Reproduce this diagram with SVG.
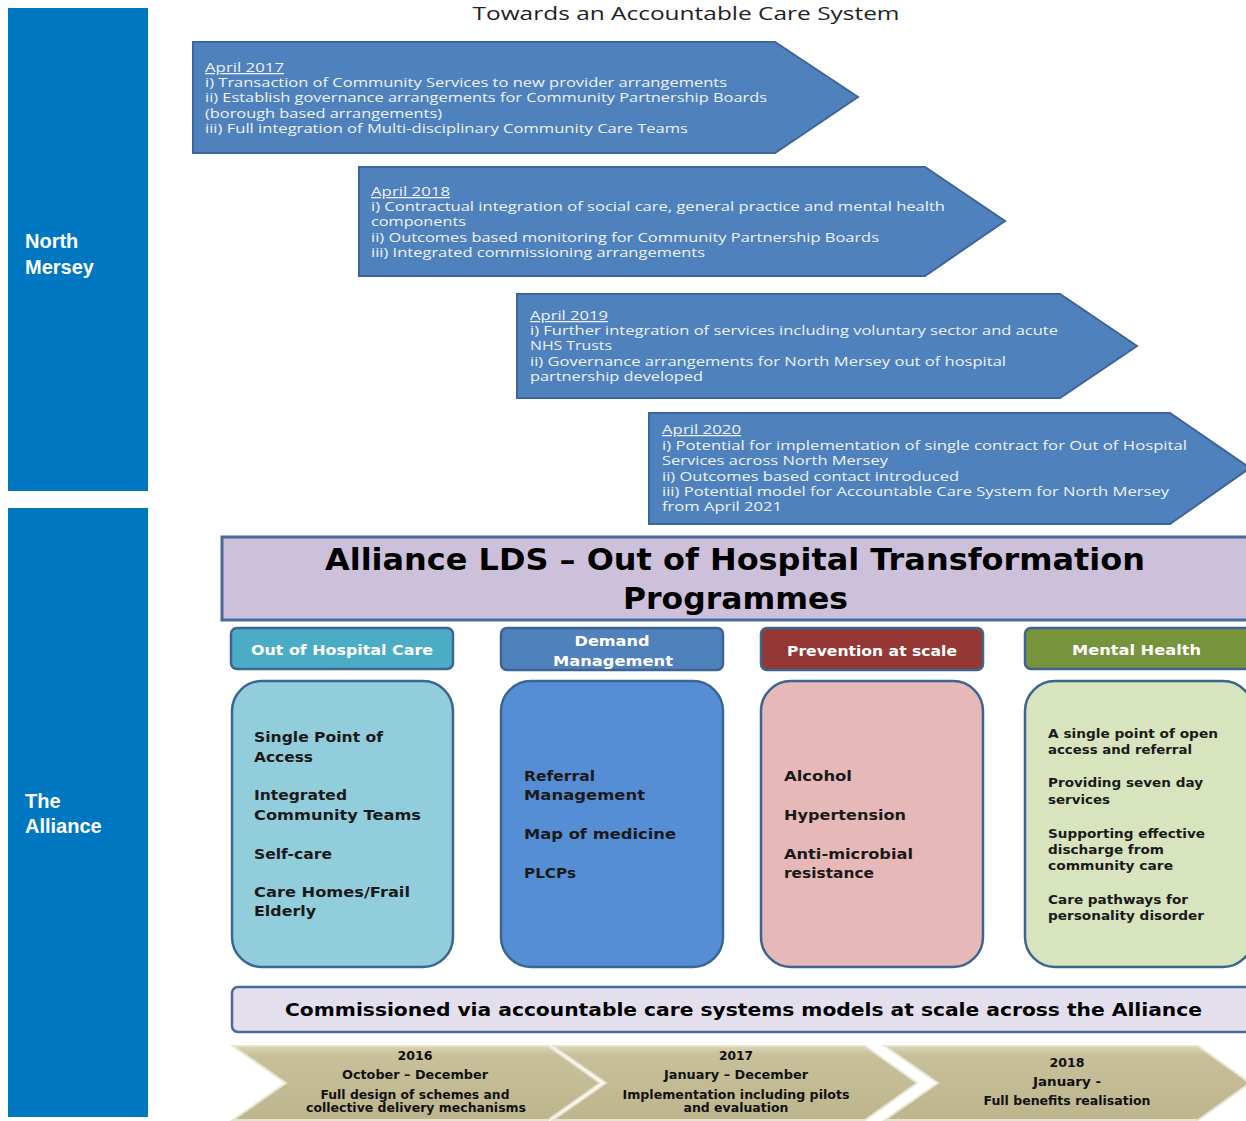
<svg xmlns="http://www.w3.org/2000/svg" width="1246" height="1121" viewBox="0 0 1246 1121">
<style>
.side{fill:#0078C1}
.sidet{fill:#fff;font-family:"Liberation Sans",Arial,sans-serif;font-weight:bold;font-size:20px}
.arr{fill:#4F81BD;stroke:#3C659C;stroke-width:2}
.at{fill:#EEF2F8;font-family:"Open Sans","DejaVu Sans",sans-serif;font-size:12.5px}
.ttl{fill:#222;font-family:"Open Sans","DejaVu Sans",sans-serif;font-size:19px}
.hdr{stroke-width:2.5;stroke:#3F6491}
.ht{fill:#fff;font-family:"DejaVu Sans",sans-serif;font-weight:bold;font-size:14px}
.box{stroke:#3B6593;stroke-width:2.5}
.bt{fill:#1a1a1a;font-family:"DejaVu Sans",sans-serif;font-weight:bold;font-size:14px}
.bt2{fill:#1a1a1a;font-family:"DejaVu Sans",sans-serif;font-weight:bold;font-size:12.5px}
.big{fill:#000;font-family:"DejaVu Sans",sans-serif;font-weight:bold;font-size:30px}
.cmt{fill:#000;font-family:"DejaVu Sans",sans-serif;font-weight:bold;font-size:18px}
.chev{fill:url(#tan);stroke:#E8E4D0;stroke-width:2}
.ct{fill:#111;font-family:"DejaVu Sans",sans-serif;font-weight:bold;font-size:11.5px}
</style>
<defs>
<linearGradient id="tan" x1="0" y1="0" x2="0" y2="1">
<stop offset="0" stop-color="#DCD6B4"/>
<stop offset="0.12" stop-color="#C7C09A"/>
<stop offset="1" stop-color="#BDB58D"/>
</linearGradient>
</defs>
<rect width="1246" height="1121" fill="#fff"/>
<text class="ttl" x="686" y="20" text-anchor="middle" textLength="427" lengthAdjust="spacingAndGlyphs">Towards an Accountable Care System</text>

<g id="north-mersey">
<rect class="side" x="8" y="8" width="140" height="483"/>
<text class="sidet" x="25" y="248">North</text>
<text class="sidet" x="25" y="274">Mersey</text>
</g>
<g id="the-alliance">
<rect class="side" x="8" y="508" width="140" height="609"/>
<text class="sidet" x="25" y="808">The</text>
<text class="sidet" x="25" y="833">Alliance</text>
</g>

<g id="april-2017">
<polygon class="arr" points="193,42 775,42 858,97 775,153 193,153"/>
<text class="at" x="205" y="72" text-decoration="underline" textLength="79" lengthAdjust="spacingAndGlyphs">April 2017</text>
<text class="at" x="205" y="87" textLength="522" lengthAdjust="spacingAndGlyphs">i) Transaction of Community Services to new provider arrangements</text>
<text class="at" x="205" y="102" textLength="562" lengthAdjust="spacingAndGlyphs">ii) Establish governance arrangements for Community Partnership Boards</text>
<text class="at" x="205" y="118" textLength="237" lengthAdjust="spacingAndGlyphs">(borough based arrangements)</text>
<text class="at" x="205" y="133" textLength="483" lengthAdjust="spacingAndGlyphs">iii) Full integration of Multi-disciplinary Community Care Teams</text>
</g>
<g id="april-2018">
<polygon class="arr" points="359,167 925,167 1005,221 925,276 359,276"/>
<text class="at" x="371" y="196" text-decoration="underline" textLength="79" lengthAdjust="spacingAndGlyphs">April 2018</text>
<text class="at" x="371" y="211" textLength="574" lengthAdjust="spacingAndGlyphs">i) Contractual integration of social care, general practice and mental health</text>
<text class="at" x="371" y="226" textLength="95" lengthAdjust="spacingAndGlyphs">components</text>
<text class="at" x="371" y="242" textLength="508" lengthAdjust="spacingAndGlyphs">ii) Outcomes based monitoring for Community Partnership Boards</text>
<text class="at" x="371" y="257" textLength="334" lengthAdjust="spacingAndGlyphs">iii) Integrated commissioning arrangements</text>
</g>
<g id="april-2019">
<polygon class="arr" points="517,294 1060,294 1137,346 1060,398 517,398"/>
<text class="at" x="530" y="320" text-decoration="underline" textLength="78" lengthAdjust="spacingAndGlyphs">April 2019</text>
<text class="at" x="530" y="335" textLength="528" lengthAdjust="spacingAndGlyphs">i) Further integration of services including voluntary sector and acute</text>
<text class="at" x="530" y="350" textLength="82" lengthAdjust="spacingAndGlyphs">NHS Trusts</text>
<text class="at" x="530" y="366" textLength="476" lengthAdjust="spacingAndGlyphs">ii) Governance arrangements for North Mersey out of hospital</text>
<text class="at" x="530" y="381" textLength="173" lengthAdjust="spacingAndGlyphs">partnership developed</text>
</g>
<g id="april-2020">
<polygon class="arr" points="649,413 1170,413 1250,468 1170,524 649,524"/>
<text class="at" x="662" y="434" text-decoration="underline" textLength="79" lengthAdjust="spacingAndGlyphs">April 2020</text>
<text class="at" x="662" y="450" textLength="525" lengthAdjust="spacingAndGlyphs">i)  Potential for implementation of single contract for Out of Hospital</text>
<text class="at" x="662" y="465" textLength="226" lengthAdjust="spacingAndGlyphs">Services across North Mersey</text>
<text class="at" x="662" y="481" textLength="297" lengthAdjust="spacingAndGlyphs">ii) Outcomes based contact introduced</text>
<text class="at" x="662" y="496" textLength="507" lengthAdjust="spacingAndGlyphs">iii) Potential model for Accountable Care System for North Mersey</text>
<text class="at" x="662" y="511" textLength="120" lengthAdjust="spacingAndGlyphs">from April 2021</text>
</g>

<g id="title-box">
<rect x="222" y="537" width="1030" height="83" fill="#CCC0DA" stroke="#4A6A9A" stroke-width="3"/>
<text class="big" x="325" y="570" textLength="820" lengthAdjust="spacingAndGlyphs">Alliance LDS – Out of Hospital Transformation</text>
<text class="big" x="623" y="609" textLength="225" lengthAdjust="spacingAndGlyphs">Programmes</text>
</g>

<g id="out-of-hospital-care">
<rect class="hdr" x="231" y="628" width="222" height="41" rx="6" fill="#4BACC6"/>
<text class="ht" x="251" y="655" textLength="182" lengthAdjust="spacingAndGlyphs">Out of Hospital Care</text>
<rect class="box" x="232" y="681" width="221" height="286" rx="30" fill="#92CDDC"/>
<text class="bt" x="254" y="742" textLength="129" lengthAdjust="spacingAndGlyphs">Single Point of</text>
<text class="bt" x="254" y="762" textLength="59" lengthAdjust="spacingAndGlyphs">Access</text>
<text class="bt" x="254" y="800" textLength="93" lengthAdjust="spacingAndGlyphs">Integrated</text>
<text class="bt" x="254" y="820" textLength="167" lengthAdjust="spacingAndGlyphs">Community Teams</text>
<text class="bt" x="254" y="859" textLength="78" lengthAdjust="spacingAndGlyphs">Self-care</text>
<text class="bt" x="254" y="897" textLength="156" lengthAdjust="spacingAndGlyphs">Care Homes/Frail</text>
<text class="bt" x="254" y="916" textLength="62" lengthAdjust="spacingAndGlyphs">Elderly</text>
</g>
<g id="demand-management">
<rect class="hdr" x="501" y="628" width="222" height="42" rx="6" fill="#4F81BD"/>
<text class="ht" x="612" y="646" text-anchor="middle" textLength="75" lengthAdjust="spacingAndGlyphs">Demand</text>
<text class="ht" x="613" y="666" text-anchor="middle" textLength="120" lengthAdjust="spacingAndGlyphs">Management</text>
<rect class="box" x="501" y="681" width="222" height="286" rx="30" fill="#558ED5"/>
<text class="bt" x="524" y="781" textLength="71" lengthAdjust="spacingAndGlyphs">Referral</text>
<text class="bt" x="524" y="800" textLength="121" lengthAdjust="spacingAndGlyphs">Management</text>
<text class="bt" x="524" y="839" textLength="152" lengthAdjust="spacingAndGlyphs">Map of medicine</text>
<text class="bt" x="524" y="878" textLength="52" lengthAdjust="spacingAndGlyphs">PLCPs</text>
</g>
<g id="prevention-at-scale">
<rect class="hdr" x="761" y="628" width="222" height="42" rx="6" fill="#953735"/>
<text class="ht" x="787" y="656" textLength="170" lengthAdjust="spacingAndGlyphs">Prevention at scale</text>
<rect class="box" x="761" y="681" width="222" height="286" rx="30" fill="#E6B9B8"/>
<text class="bt" x="784" y="781" textLength="68" lengthAdjust="spacingAndGlyphs">Alcohol</text>
<text class="bt" x="784" y="820" textLength="122" lengthAdjust="spacingAndGlyphs">Hypertension</text>
<text class="bt" x="784" y="859" textLength="129" lengthAdjust="spacingAndGlyphs">Anti-microbial</text>
<text class="bt" x="784" y="878" textLength="90" lengthAdjust="spacingAndGlyphs">resistance</text>
</g>
<g id="mental-health">
<rect class="hdr" x="1025" y="628" width="230" height="41" rx="6" fill="#77933C"/>
<text class="ht" x="1072" y="655" textLength="129" lengthAdjust="spacingAndGlyphs">Mental Health</text>
<rect class="box" x="1025" y="681" width="228" height="286" rx="30" fill="#D7E4BD"/>
<text class="bt2" x="1048" y="738" textLength="170" lengthAdjust="spacingAndGlyphs">A single point of open</text>
<text class="bt2" x="1048" y="754" textLength="144" lengthAdjust="spacingAndGlyphs">access and referral</text>
<text class="bt2" x="1048" y="787" textLength="155" lengthAdjust="spacingAndGlyphs">Providing seven day</text>
<text class="bt2" x="1048" y="804" textLength="62" lengthAdjust="spacingAndGlyphs">services</text>
<text class="bt2" x="1048" y="838" textLength="157" lengthAdjust="spacingAndGlyphs">Supporting effective</text>
<text class="bt2" x="1048" y="854" textLength="116" lengthAdjust="spacingAndGlyphs">discharge from</text>
<text class="bt2" x="1048" y="870" textLength="125" lengthAdjust="spacingAndGlyphs">community care</text>
<text class="bt2" x="1048" y="904" textLength="140" lengthAdjust="spacingAndGlyphs">Care pathways for</text>
<text class="bt2" x="1048" y="920" textLength="156" lengthAdjust="spacingAndGlyphs">personality disorder</text>
</g>

<g id="commissioned">
<rect x="232" y="987" width="1024" height="45" rx="6" fill="#E4DFEC" stroke="#4A6A9A" stroke-width="2.5"/>
<text class="cmt" x="285" y="1016" textLength="917" lengthAdjust="spacingAndGlyphs">Commissioned via accountable care systems models at scale across the Alliance</text>
</g>

<g id="phase-2016">
<polygon class="chev" points="233,1046 548,1046 600,1083 548,1120 233,1120 286,1083"/>
<text class="ct" x="415" y="1060" text-anchor="middle" textLength="35" lengthAdjust="spacingAndGlyphs">2016</text>
<text class="ct" x="415" y="1079" text-anchor="middle" textLength="146" lengthAdjust="spacingAndGlyphs">October – December</text>
<text class="ct" x="415" y="1099" text-anchor="middle" textLength="189" lengthAdjust="spacingAndGlyphs">Full design of schemes and</text>
<text class="ct" x="416" y="1112" text-anchor="middle" textLength="220" lengthAdjust="spacingAndGlyphs">collective delivery mechanisms</text>
</g>
<g id="phase-2017">
<polygon class="chev" points="553,1046 865,1046 917,1083 865,1120 553,1120 606,1083"/>
<text class="ct" x="736" y="1060" text-anchor="middle" textLength="34" lengthAdjust="spacingAndGlyphs">2017</text>
<text class="ct" x="736" y="1079" text-anchor="middle" textLength="144" lengthAdjust="spacingAndGlyphs">January – December</text>
<text class="ct" x="736" y="1099" text-anchor="middle" textLength="227" lengthAdjust="spacingAndGlyphs">Implementation including pilots</text>
<text class="ct" x="736" y="1112" text-anchor="middle" textLength="105" lengthAdjust="spacingAndGlyphs">and evaluation</text>
</g>
<g id="phase-2018">
<polygon class="chev" points="885,1046 1198,1046 1250,1083 1198,1120 885,1120 938,1083"/>
<text class="ct" x="1067" y="1067" text-anchor="middle" textLength="35" lengthAdjust="spacingAndGlyphs">2018</text>
<text class="ct" x="1067" y="1086" text-anchor="middle" textLength="68" lengthAdjust="spacingAndGlyphs">January  -</text>
<text class="ct" x="1067" y="1105" text-anchor="middle" textLength="167" lengthAdjust="spacingAndGlyphs">Full benefits realisation</text>
</g>
<g id="connectors"></g>
</svg>
